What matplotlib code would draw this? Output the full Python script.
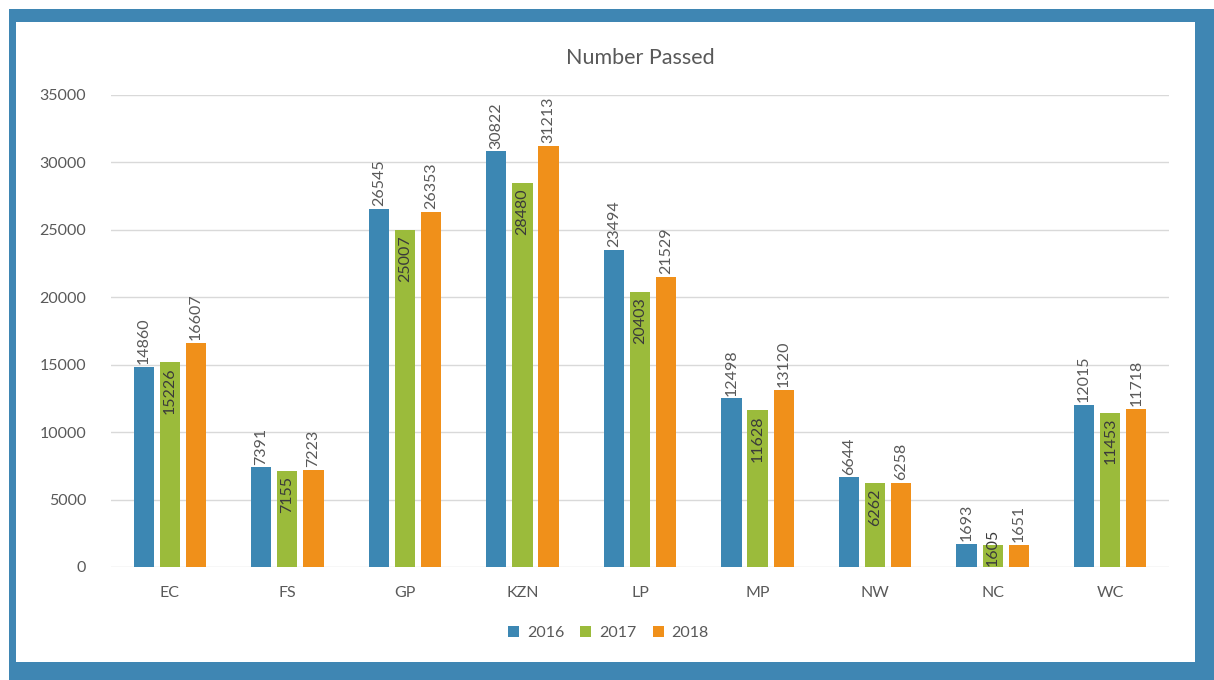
import numpy as np
import matplotlib.pyplot as plt
from matplotlib.patches import Rectangle

plt.rcParams['font.family'] = ['Lato', 'DejaVu Sans']

regions = ['EC', 'FS', 'GP', 'KZN', 'LP', 'MP', 'NW', 'NC', 'WC']
years = ['2016', '2017', '2018']
passed_2016 = [14860, 7391, 26545, 30822, 23494, 12498, 6644, 1693, 12015]
passed_2017 = [15226, 7155, 25007, 28480, 20403, 11628, 6262, 1605, 11453]
passed_2018 = [16607, 7223, 26353, 31213, 21529, 13120, 6258, 1651, 11718]

colors = ['#3c87b3', '#9bbb3b', '#f0901a']
text_col = '#595959'
W, H = 1214, 680

fig = plt.figure(figsize=(W / 100, H / 100), dpi=100, facecolor='white')

# blue frame around the chart
fig.patches.append(Rectangle((9 / W, 0), 1 - 9 / W, 1 - 9 / H, transform=fig.transFigure,
                             facecolor='#3f86b3', edgecolor='none', zorder=-10))
fig.patches.append(Rectangle((16 / W, 18 / H), (1195 - 16) / W, (662 - 22) / H,
                             transform=fig.transFigure, facecolor='white',
                             edgecolor='none', zorder=-9))

ax = fig.add_axes([111 / W, 1 - 567 / H, (1169 - 111) / W, (567 - 95) / H])
ax.set_facecolor('none')

x = np.arange(len(regions))
width = 0.172
step = 0.222
series = [passed_2016, passed_2017, passed_2018]

for i, (vals, col, yr) in enumerate(zip(series, colors, years)):
    pos = x + (i - 1) * step
    ax.bar(pos, vals, width, color=col, label=yr, zorder=3)
    for p, v in zip(pos, vals):
        if i == 1 and v < 3000:
            # too short for an inside label: sit it on the baseline
            ax.annotate(str(v), (p, 0), xytext=(0, 1), textcoords='offset points',
                        rotation=90, ha='center', va='bottom', fontsize=11.5,
                        color='#3a3a3a', zorder=4)
        elif i == 1:
            ax.annotate(str(v), (p, v), xytext=(0, -4), textcoords='offset points',
                        rotation=90, ha='center', va='top', fontsize=11.5,
                        color='#3a3a3a', zorder=4)
        else:
            ax.annotate(str(v), (p, v), xytext=(0, 2), textcoords='offset points',
                        rotation=90, ha='center', va='bottom', fontsize=11.5,
                        color=text_col, zorder=4)

ax.set_xlim(-0.5, len(regions) - 0.5)
ax.set_ylim(0, 35000)
ax.set_yticks(np.arange(0, 35001, 5000))
ax.set_xticks(x)
ax.set_xticklabels(regions)
ax.tick_params(axis='both', length=0, colors=text_col, labelsize=11.5)
ax.tick_params(axis='y', pad=18)
ax.tick_params(axis='x', pad=14)
ax.grid(axis='y', color='#d9d9d9', linewidth=1, zorder=0)
for s in ax.spines.values():
    s.set_visible(False)

ax.set_title('Number Passed', fontsize=15.5, color=text_col, pad=22)

leg = ax.legend(loc='upper center', bbox_to_anchor=(0.47, -0.095), ncol=3, frameon=False,
                fontsize=11.5, handlelength=0.7, handleheight=0.7, handletextpad=0.5,
                columnspacing=1.0, labelcolor=text_col)

fig.savefig('out.png', dpi=100, facecolor=fig.get_facecolor())
